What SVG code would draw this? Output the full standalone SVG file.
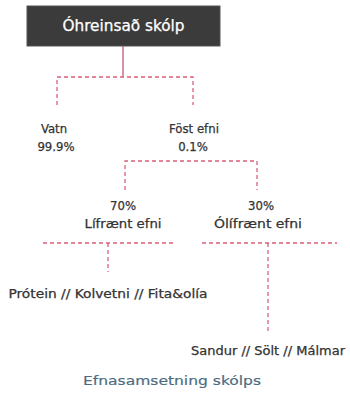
<svg xmlns="http://www.w3.org/2000/svg" width="350" height="396" viewBox="0 0 350 396">
<style>
.t{font-family:"DejaVu Sans Condensed","Liberation Sans",sans-serif;font-size:13px;fill:#333;stroke:#333;stroke-width:0.25;text-anchor:middle}
.d{stroke:#d9607a;stroke-width:1.3;fill:none;stroke-dasharray:4 3}
.s{stroke:#c4587a;stroke-width:1.3;fill:none}
</style>
<rect width="350" height="396" fill="#ffffff"/>
<g id="root">
<rect x="27" y="6" width="193" height="40" fill="#3b3b3b" stroke="#555" stroke-width="1"/>
<text x="123.5" y="31" class="t" style="fill:#fff;stroke:#fff;font-size:15px" textLength="122" lengthAdjust="spacingAndGlyphs">Óhreinsað skólp</text>
</g>
<g id="connectors">
<path class="s" d="M123 46V77"/>
<path class="d" d="M57 105V77H193V105"/>
<path class="d" d="M125 190V161H257V190"/>
<path class="d" d="M43 243H175M108 243V272"/>
<path class="d" d="M202 243H337M268 243V332"/>
</g>
<g id="vatn">
<text x="54" y="133" class="t">Vatn</text>
<text x="56" y="151" class="t">99.9%</text>
</g>
<g id="fost">
<text x="194" y="133" class="t">Föst efni</text>
<text x="193" y="151" class="t">0.1%</text>
</g>
<g id="lif">
<text x="123" y="210" class="t">70%</text>
<text x="123" y="228" class="t" textLength="77" lengthAdjust="spacingAndGlyphs">Lífrænt efni</text>
</g>
<g id="olif">
<text x="261" y="210" class="t">30%</text>
<text x="258" y="228" class="t" textLength="88" lengthAdjust="spacingAndGlyphs">Ólífrænt efni</text>
</g>
<g id="lif-items">
<text x="108" y="298" class="t" textLength="199" lengthAdjust="spacingAndGlyphs">Prótein // Kolvetni // Fita&amp;olía</text>
</g>
<g id="olif-items">
<text x="268" y="355" class="t" textLength="154" lengthAdjust="spacingAndGlyphs">Sandur // Sölt // Málmar</text>
</g>
<g id="caption">
<text x="172" y="385" class="t" style="fill:#4d6b80;stroke:#4d6b80;stroke-width:0.15;font-size:12px" textLength="178" lengthAdjust="spacingAndGlyphs">Efnasamsetning skólps</text>
</g>
</svg>
